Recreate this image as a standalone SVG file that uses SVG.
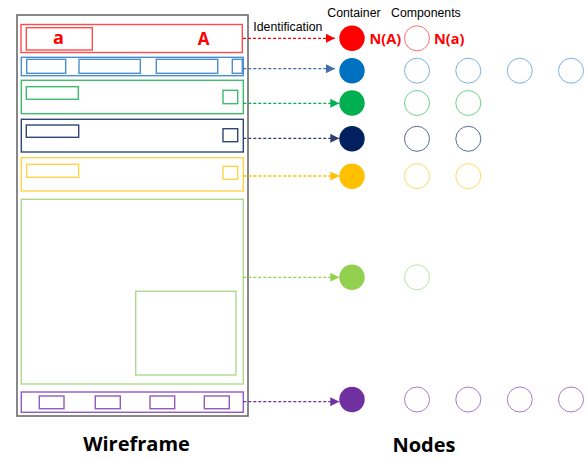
<svg xmlns="http://www.w3.org/2000/svg" width="587" height="459" viewBox="0 0 587 459">
<defs>
<style>
.wf{fill:none;stroke-width:1.4}
.lbl{font-family:"Liberation Sans",Arial,sans-serif;font-size:12.3px;fill:#000}
.big{font-family:"Open Sans","Noto Sans",sans-serif;font-size:20px;font-weight:bold;fill:#000;text-anchor:middle}
.red{font-family:"Open Sans","Noto Sans",sans-serif;font-weight:bold;fill:#FF0000;stroke:none}
.cmp{fill:#fff;stroke-width:1}
.con{fill:none;stroke-width:1.3;stroke-dasharray:3 2}
</style>
<marker id="mR" viewBox="0 0 10 10" refX="10" refY="5" markerWidth="9" markerHeight="9" markerUnits="userSpaceOnUse" orient="auto"><path d="M0,0L10,5L0,10z" fill="#FF0000"/></marker>
<marker id="mB" viewBox="0 0 10 10" refX="10" refY="5" markerWidth="9" markerHeight="9" markerUnits="userSpaceOnUse" orient="auto"><path d="M0,0L10,5L0,10z" fill="#3E6FA8"/></marker>
<marker id="mG" viewBox="0 0 10 10" refX="10" refY="5" markerWidth="9" markerHeight="9" markerUnits="userSpaceOnUse" orient="auto"><path d="M0,0L10,5L0,10z" fill="#00B050"/></marker>
<marker id="mN" viewBox="0 0 10 10" refX="10" refY="5" markerWidth="9" markerHeight="9" markerUnits="userSpaceOnUse" orient="auto"><path d="M0,0L10,5L0,10z" fill="#2F3F6A"/></marker>
<marker id="mY" viewBox="0 0 10 10" refX="10" refY="5" markerWidth="9" markerHeight="9" markerUnits="userSpaceOnUse" orient="auto"><path d="M0,0L10,5L0,10z" fill="#FFC000"/></marker>
<marker id="mL" viewBox="0 0 10 10" refX="10" refY="5" markerWidth="9" markerHeight="9" markerUnits="userSpaceOnUse" orient="auto"><path d="M0,0L10,5L0,10z" fill="#92D050"/></marker>
<marker id="mP" viewBox="0 0 10 10" refX="10" refY="5" markerWidth="9" markerHeight="9" markerUnits="userSpaceOnUse" orient="auto"><path d="M0,0L10,5L0,10z" fill="#7030A0"/></marker>
</defs>
<rect width="587" height="459" fill="#fff"/>

<g id="wireframe">
<rect x="17" y="15" width="231" height="401" fill="none" stroke="#6B6B6B" stroke-width="1.6"/>
<g id="wf-red" stroke="#FF4B4B">
<rect class="wf" x="21" y="24.5" width="221.3" height="28"/>
<rect class="wf" x="26.3" y="27.7" width="66" height="22.3"/>
<text class="red" x="58.5" y="44.2" font-size="18" text-anchor="middle">a</text>
<text class="red" x="203.5" y="44.8" font-size="17" text-anchor="middle">A</text>
</g>
<g id="wf-blue" stroke="#4A8FD0">
<rect class="wf" x="21.3" y="57.3" width="222" height="18.4"/>
<rect class="wf" x="26.7" y="59.3" width="39" height="14"/>
<rect class="wf" x="79" y="59.3" width="61.3" height="14"/>
<rect class="wf" x="156.3" y="59.3" width="61.4" height="14"/>
<rect class="wf" x="232.3" y="59.3" width="10" height="14"/>
</g>
<g id="wf-green" stroke="#3DBE6E">
<rect class="wf" x="21.3" y="80.3" width="222" height="33.4"/>
<rect class="wf" x="26.3" y="86.7" width="52" height="12.6"/>
<rect class="wf" x="223" y="90.3" width="14.7" height="13.4"/>
</g>
<g id="wf-navy" stroke="#2F4677">
<rect class="wf" x="21.3" y="119.3" width="222" height="32.7"/>
<rect class="wf" x="26.3" y="125" width="52.4" height="12.3"/>
<rect class="wf" x="223" y="128.7" width="14.7" height="13"/>
</g>
<g id="wf-yellow" stroke="#FFD44A">
<rect class="wf" x="21.3" y="157.7" width="222" height="33.3"/>
<rect class="wf" x="26.7" y="164.3" width="52" height="13"/>
<rect class="wf" x="223" y="166.3" width="14.7" height="13"/>
</g>
<g id="wf-lightgreen" stroke="#ACDA8C">
<rect class="wf" x="21.3" y="199.3" width="222" height="184.7"/>
<rect class="wf" x="135.7" y="291.3" width="100.3" height="83.7"/>
</g>
<g id="wf-purple" stroke="#9159C2">
<rect class="wf" x="21.3" y="392" width="222" height="20.3"/>
<rect class="wf" x="39.3" y="396" width="24.7" height="12.7"/>
<rect class="wf" x="95.3" y="396" width="25" height="12.7"/>
<rect class="wf" x="150" y="396" width="24.7" height="12.7"/>
<rect class="wf" x="204.3" y="396" width="25" height="12.7"/>
</g>
<text class="big" x="136.5" y="451">Wireframe</text>
</g>

<g id="connectors">
<line class="con" x1="243" y1="38.3" x2="335" y2="38.3" stroke="#FF0000" marker-end="url(#mR)"/>
<text class="lbl" x="253.3" y="30.5">Identification</text>
<line class="con" x1="243.3" y1="68.7" x2="335" y2="68.7" stroke="#3E6FA8" marker-end="url(#mB)"/>
<line class="con" x1="243.3" y1="103.3" x2="339.3" y2="103.3" stroke="#00B050" marker-end="url(#mG)"/>
<line class="con" x1="243.3" y1="138.3" x2="339.3" y2="138.3" stroke="#2F3F6A" marker-end="url(#mN)"/>
<line class="con" x1="243.3" y1="176" x2="339.3" y2="176" stroke="#FFC000" marker-end="url(#mY)"/>
<line class="con" x1="243.3" y1="277.3" x2="339.3" y2="277.3" stroke="#92D050" marker-end="url(#mL)"/>
<line class="con" x1="243.3" y1="401.7" x2="339.3" y2="401.7" stroke="#7030A0" marker-end="url(#mP)"/>
</g>

<g id="headers">
<text class="lbl" x="327.3" y="16.5">Container</text>
<text class="lbl" x="391" y="16.5">Components</text>
</g>

<g id="node-red">
<circle cx="352" cy="38.3" r="12.7" fill="#FF0000"/>
<text class="red" x="369.5" y="44" font-size="14.5">N(A)</text>
<circle class="cmp" cx="417" cy="38.3" r="12.5" stroke="#FF6F6F"/>
<text class="red" x="434" y="44" font-size="14.5">N(a)</text>
</g>
<g id="node-blue" stroke="#7AB2E2">
<circle cx="352" cy="70.7" r="12.7" fill="#0070C0" stroke="none"/>
<circle class="cmp" cx="417" cy="70.7" r="12.5"/>
<circle class="cmp" cx="468.3" cy="70.7" r="12.5"/>
<circle class="cmp" cx="519.8" cy="70.7" r="12.5"/>
<circle class="cmp" cx="571" cy="70.7" r="12.5"/>
</g>
<g id="node-green" stroke="#6FD08F">
<circle cx="352" cy="103" r="12.7" fill="#00B050" stroke="none"/>
<circle class="cmp" cx="417" cy="103" r="12.5"/>
<circle class="cmp" cx="468.3" cy="103" r="12.5"/>
</g>
<g id="node-navy" stroke="#5A6C96">
<circle cx="352" cy="138.8" r="12.7" fill="#002060" stroke="none"/>
<circle class="cmp" cx="417" cy="138.8" r="12.5"/>
<circle class="cmp" cx="468.3" cy="138.8" r="12.5"/>
</g>
<g id="node-yellow" stroke="#FFD966">
<circle cx="352" cy="176.2" r="12.7" fill="#FFC000" stroke="none"/>
<circle class="cmp" cx="417" cy="176.2" r="12.5"/>
<circle class="cmp" cx="468.3" cy="176.2" r="12.5"/>
</g>
<g id="node-lightgreen" stroke="#BDE3A0">
<circle cx="352" cy="277.3" r="12.7" fill="#92D050" stroke="none"/>
<circle class="cmp" cx="417" cy="277.3" r="12.5"/>
</g>
<g id="node-purple" stroke="#A57ACB">
<circle cx="352" cy="399.5" r="12.7" fill="#7030A0" stroke="none"/>
<circle class="cmp" cx="417" cy="399.5" r="12.5"/>
<circle class="cmp" cx="468.3" cy="399.5" r="12.5"/>
<circle class="cmp" cx="519.8" cy="399.5" r="12.5"/>
<circle class="cmp" cx="571" cy="399.5" r="12.5"/>
</g>
<text class="big" x="424" y="452">Nodes</text>
</svg>
